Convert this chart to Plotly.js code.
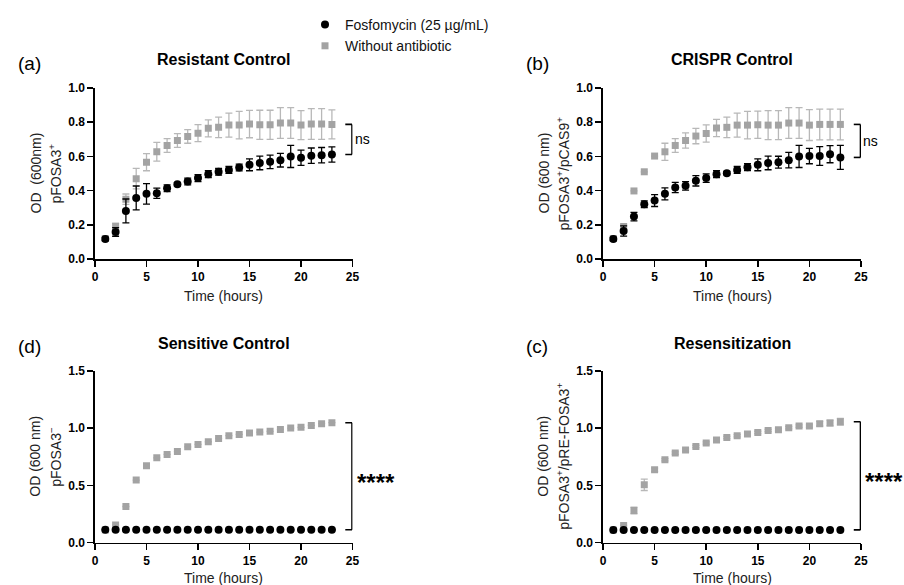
<!DOCTYPE html>
<html>
<head>
<meta charset="utf-8">
<script src="https://cdn.plot.ly/plotly-3.0.1.min.js"></script>
<style>html,body{margin:0;padding:0;background:#fff;}#chart{width:904px;height:585px;}</style>
</head>
<body>
<div id="chart"></div>
<script>
// ---- data ----
var time = [1,2,3,4,5,6,7,8,9,10,11,12,13,14,15,16,17,18,19,20,21,22,23];

var seriesNames = ["Fosfomycin (25 µg/mL)", "Without antibiotic"];
var panelTitles = ["Resistant Control", "CRISPR Control", "Sensitive Control", "Resensitization"];
var panelLetters = ["(a)", "(b)", "(d)", "(c)"];
var xTitle = "Time (hours)";
var yTitleLine1 = ["OD  (600nm)", "OD (600 nm)", "OD (600 nm)", "OD (600 nm)"];
var yTitleLine2 = ["pFOSA3<sup>+</sup>", "pFOSA3<sup>+</sup>/pCAS9<sup>+</sup>", "pFOSA3<sup>\u2212</sup>", "pFOSA3<sup>+</sup>/pRE-FOSA3<sup>+</sup>"];
var sigLabels = ["ns", "ns", "****", "****"];

// (a) Resistant Control
var a_fos      = [0.117,0.158,0.281,0.357,0.381,0.385,0.414,0.437,0.453,0.473,0.496,0.510,0.521,0.535,0.551,0.562,0.568,0.578,0.600,0.592,0.604,0.607,0.611];
var a_fos_err  = [0.010,0.025,0.070,0.070,0.060,0.030,0.020,0.010,0.020,0.020,0.020,0.020,0.020,0.020,0.035,0.040,0.040,0.040,0.065,0.045,0.045,0.045,0.045];
var a_none     = [0.120,0.190,0.350,0.470,0.566,0.627,0.664,0.693,0.717,0.736,0.764,0.770,0.783,0.783,0.789,0.785,0.785,0.795,0.795,0.783,0.789,0.789,0.787];
var a_none_err = [0.010,0.020,0.030,0.060,0.050,0.055,0.040,0.040,0.040,0.050,0.050,0.060,0.070,0.080,0.080,0.085,0.085,0.090,0.090,0.085,0.090,0.090,0.085];

// (b) CRISPR Control
var b_fos      = [0.117,0.164,0.248,0.320,0.342,0.381,0.418,0.428,0.457,0.473,0.496,0.502,0.521,0.537,0.551,0.562,0.566,0.578,0.600,0.602,0.602,0.613,0.594];
var b_fos_err  = [0.010,0.030,0.025,0.020,0.035,0.035,0.030,0.025,0.030,0.025,0.020,0.010,0.020,0.020,0.035,0.040,0.035,0.045,0.065,0.045,0.055,0.050,0.070];
var b_none     = [0.120,0.190,0.398,0.510,0.602,0.627,0.664,0.693,0.719,0.734,0.766,0.770,0.783,0.783,0.785,0.783,0.783,0.795,0.795,0.783,0.787,0.787,0.787];
var b_none_err = [0.010,0.010,0.000,0.000,0.000,0.050,0.040,0.045,0.045,0.050,0.050,0.060,0.070,0.080,0.080,0.085,0.085,0.090,0.090,0.090,0.090,0.090,0.090];

// (d) Sensitive Control
var d_fos      = [0.111,0.111,0.111,0.111,0.111,0.111,0.111,0.111,0.111,0.111,0.111,0.111,0.111,0.111,0.111,0.111,0.111,0.111,0.111,0.111,0.111,0.111,0.111];
var d_fos_err  = [0,0,0,0,0,0,0,0,0,0,0,0,0,0,0,0,0,0,0,0,0,0,0];
var d_none     = [0.110,0.152,0.315,0.546,0.671,0.741,0.770,0.797,0.837,0.858,0.881,0.910,0.934,0.945,0.957,0.966,0.972,0.989,1.001,1.007,1.024,1.039,1.048];
var d_none_err = [0,0,0,0,0,0,0,0,0,0,0,0,0,0,0,0,0,0,0,0,0,0,0];

// (c) Resensitization
var c_fos      = [0.110,0.110,0.110,0.110,0.110,0.110,0.110,0.110,0.110,0.110,0.110,0.110,0.110,0.110,0.110,0.110,0.110,0.110,0.110,0.110,0.110,0.110,0.110];
var c_fos_err  = [0,0,0,0,0,0,0,0,0,0,0,0,0,0,0,0,0,0,0,0,0,0,0];
var c_none     = [0.110,0.149,0.280,0.505,0.636,0.724,0.782,0.808,0.840,0.870,0.896,0.919,0.934,0.948,0.963,0.980,0.986,1.004,1.018,1.018,1.039,1.045,1.056];
var c_none_err = [0.000,0.000,0.030,0.050,0.015,0.010,0.010,0.010,0.010,0.010,0.010,0.010,0.010,0.010,0.010,0.010,0.010,0.010,0.010,0.010,0.020,0.025,0.030];

(function(){
var panelsFos   = [a_fos, b_fos, d_fos, c_fos];
var panelsFosE  = [a_fos_err, b_fos_err, d_fos_err, c_fos_err];
var panelsNone  = [a_none, b_none, d_none, c_none];
var panelsNoneE = [a_none_err, b_none_err, d_none_err, c_none_err];

var W = 904, H = 585;
var FONT = "Liberation Sans, Arial, Helvetica, sans-serif";
function px2x(p){ return p / W; }
function px2y(p){ return 1 - p / H; }
var boxes = [
  [95, 352.5, 88, 259],
  [603, 861, 88, 259],
  [95, 352.5, 371, 542.5],
  [603, 861, 371, 542.5]
];
var yMax = [1.0, 1.0, 1.5, 1.5];
var yDtick = [0.2, 0.2, 0.5, 0.5];

var BLACK = "#000000";
var GREY = "#a3a3a3";
var GREY_ERR = "#b8b8b8";

var data = [];
var layout = {
  width: W, height: H,
  margin: {l:0, r:0, t:0, b:0, pad:0},
  paper_bgcolor: "#ffffff",
  plot_bgcolor: "#ffffff",
  font: {family: FONT, color: "#000"},
  showlegend: true,
  legend: {
    x: px2x(305), y: px2y(9), xanchor: "left", yanchor: "top",
    traceorder: "reversed",
    font: {family: FONT, size: 14, color: "#111"},
    bgcolor: "rgba(0,0,0,0)", borderwidth: 0
  },
  annotations: [],
  shapes: []
};

for (var i = 0; i < 4; i++) {
  var sfx = i === 0 ? "" : String(i + 1);
  var xa = "x" + sfx, ya = "y" + sfx;
  var b = boxes[i];
  data.push({
    type: "scatter", mode: "markers", x: time, y: panelsNone[i],
    xaxis: xa, yaxis: ya, name: seriesNames[1], showlegend: i === 0,
    marker: {symbol: "square", size: 7, color: GREY},
    error_y: {type: "data", array: panelsNoneE[i], visible: true, color: GREY_ERR, thickness: 1.3, width: 3.5}
  });
  data.push({
    type: "scatter", mode: "markers", x: time, y: panelsFos[i],
    xaxis: xa, yaxis: ya, name: seriesNames[0], showlegend: i === 0,
    marker: {symbol: "circle", size: 8, color: BLACK},
    error_y: {type: "data", array: panelsFosE[i], visible: true, color: BLACK, thickness: 1.3, width: 3.5}
  });

  layout["xaxis" + sfx] = {
    domain: [px2x(b[0]), px2x(b[1])],
    anchor: ya, range: [0, 25], dtick: 5, tick0: 0,
    showline: true, linecolor: "#000", linewidth: 1.6,
    ticks: "outside", ticklen: 6, tickwidth: 1.6, tickcolor: "#000",
    showgrid: false, zeroline: false, fixedrange: true,
    tickfont: {family: FONT, size: 12, weight: "bold", color: "#000"}
  };
  layout["yaxis" + sfx] = {
    domain: [px2y(b[3]), px2y(b[2])],
    anchor: xa, range: [0, yMax[i]], dtick: yDtick[i], tick0: 0, tickformat: ".1f",
    showline: true, linecolor: "#000", linewidth: 1.6,
    ticks: "outside", ticklen: 6, tickwidth: 1.6, tickcolor: "#000",
    showgrid: false, zeroline: false, fixedrange: true,
    tickfont: {family: FONT, size: 12, weight: "bold", color: "#000"}
  };

  layout.annotations.push({
    xref: "paper", yref: "paper", x: px2x((b[0] + b[1]) / 2), y: px2y(b[3] + (i < 2 ? 37 : 35)),
    xanchor: "center", yanchor: "middle", showarrow: false,
    text: xTitle, font: {family: FONT, size: 14, color: "#222"}
  });
  layout.annotations.push({
    xref: "paper", yref: "paper", x: px2x((b[0] + b[1]) / 2), y: px2y(b[2] - 28),
    xanchor: "center", yanchor: "middle", showarrow: false,
    text: "<b>" + panelTitles[i] + "</b>", font: {family: FONT, size: 16, color: "#000"}
  });
  layout.annotations.push({
    xref: "paper", yref: "paper", x: px2x(b[0] - 79), y: px2y(b[2] - 25),
    xanchor: "left", yanchor: "middle", showarrow: false,
    text: panelLetters[i], font: {family: FONT, size: 19, color: "#000"}
  });
  layout.annotations.push({
    xref: "paper", yref: "paper", x: px2x(b[0] - 60), y: px2y((b[2] + b[3]) / 2),
    xanchor: "center", yanchor: "middle", showarrow: false, textangle: -90,
    text: yTitleLine1[i], font: {family: FONT, size: 14, color: "#222"}
  });
  layout.annotations.push({
    xref: "paper", yref: "paper", x: px2x(b[0] - 40), y: px2y((b[2] + b[3]) / 2),
    xanchor: "center", yanchor: "middle", showarrow: false, textangle: -90,
    text: yTitleLine2[i], font: {family: FONT, size: 14, color: "#222"}
  });

  var n = time.length - 1;
  var yTop = panelsNone[i][n], yBot = panelsFos[i][n];
  var bx0 = 24.3, bx1 = 24.95;
  layout.shapes.push({type: "line", xref: xa, yref: ya, x0: bx0, x1: bx1, y0: yTop, y1: yTop, line: {color: "#000", width: 1.6}});
  layout.shapes.push({type: "line", xref: xa, yref: ya, x0: bx1, x1: bx1, y0: yTop, y1: yBot, line: {color: "#000", width: 1.6}});
  layout.shapes.push({type: "line", xref: xa, yref: ya, x0: bx0, x1: bx1, y0: yBot, y1: yBot, line: {color: "#000", width: 1.6}});
  var isStar = sigLabels[i] !== "ns";
  layout.annotations.push({
    xref: xa, yref: ya, x: bx1, y: (yTop + yBot) / 2,
    xanchor: "left", yanchor: "middle", showarrow: false,
    xshift: isStar ? 3 : 1, yshift: isStar ? -6 : 0,
    text: isStar ? "<b>" + sigLabels[i] + "</b>" : sigLabels[i],
    font: {family: FONT, size: isStar ? 24 : 14, color: "#000"}
  });
}

Plotly.newPlot("chart", data, layout, {displayModeBar: false, staticPlot: true});
})();
</script>
</body>
</html>
